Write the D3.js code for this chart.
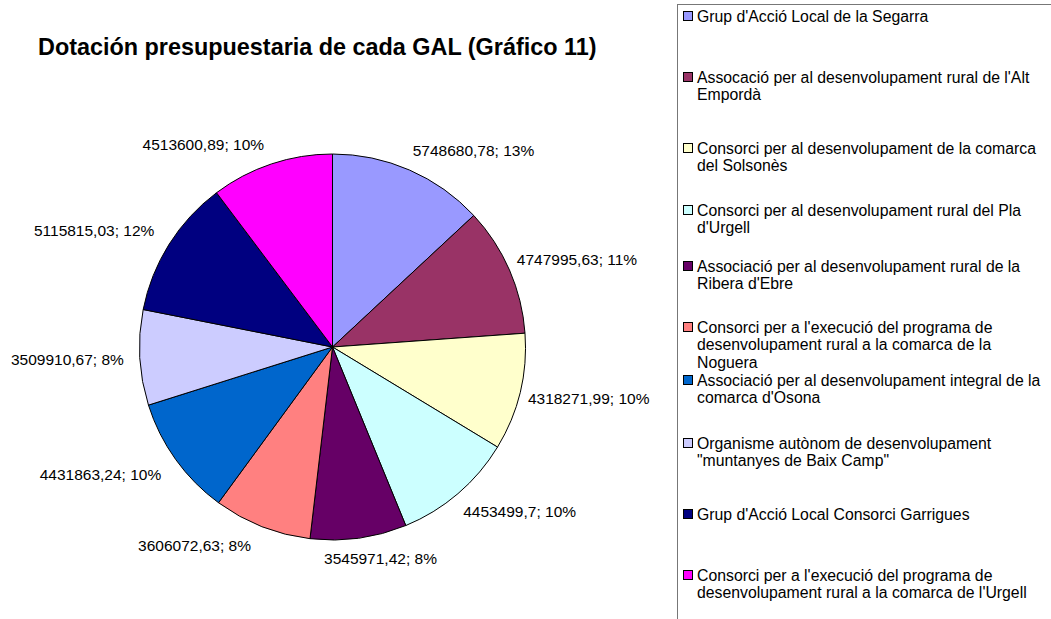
<!DOCTYPE html>
<html>
<head>
<meta charset="utf-8">
<script src="https://cdn.jsdelivr.net/npm/d3@7"></script>
<style>
  body { margin: 0; background: #fff; }
  svg { display: block; font-family: "Liberation Sans", Arial, sans-serif; }
</style>
</head>
<body>
<svg width="1051" height="619"></svg>
<script>
const categories = [
    "Grup d'Acció Local de la Segarra",
    "Assocació per al desenvolupament rural de l'Alt\nEmpordà",
    "Consorci per al desenvolupament de la comarca\ndel Solsonès",
    "Consorci per al desenvolupament rural del Pla\nd'Urgell",
    "Associació per al desenvolupament rural de la\nRibera d'Ebre",
    "Consorci per a l'execució del programa de\ndesenvolupament rural a la comarca de la\nNoguera",
    "Associació per al desenvolupament integral de la\ncomarca d'Osona",
    "Organisme autònom de desenvolupament\n\"muntanyes de Baix Camp\"",
    "Grup d'Acció Local Consorci Garrigues",
    "Consorci per a l'execució del programa de\ndesenvolupament rural a la comarca de l'Urgell"
];
const values = [5748680.78, 4747995.63, 4318271.99, 4453499.7, 3545971.42,
                3606072.63, 4431863.24, 3509910.67, 5115815.03, 4513600.89];
const colors = ['#9999ff', '#993366', '#ffffcc', '#ccffff', '#660066',
                '#ff8080', '#0066cc', '#ccccff', '#000080', '#ff00ff'];

// legend entry rows (first line centre), as laid out in the original
const legendRows = [16, 77, 148, 210, 266, 327, 380, 443, 514, 575];

const svg = d3.select('svg');
const cx = 332.5, cy = 347, radius = 193;
const total = d3.sum(values);

svg.append('text')
    .attr('x', 38).attr('y', 55)
    .attr('font-size', 23.4).attr('font-weight', 'bold')
    .text('Dotación presupuestaria de cada GAL (Gráfico 11)');

const pie = d3.pie().sort(null).value(d => d);
const arc = d3.arc().innerRadius(0).outerRadius(radius);
const arcs = pie(values);

const g = svg.append('g').attr('transform', `translate(${cx},${cy})`);
g.selectAll('path')
    .data(arcs)
    .enter()
    .append('path')
    .attr('d', arc)
    .attr('fill', (d, i) => colors[i])
    .attr('stroke', '#000')
    .attr('stroke-width', 1);

// data labels, outside end (label box has some padding round the text)
const clamp = v => Math.max(-1, Math.min(1, v));
const gap = 8, boxH = 24, padX = 8;
g.selectAll('text.lbl')
    .data(arcs)
    .enter()
    .append('text')
    .classed('lbl', true)
    .attr('font-size', 15.5)
    .attr('text-anchor', 'start')
    .attr('dy', '0.35em')
    .text(d => String(d.data).replace('.', ',') + '; ' + Math.round(d.data / total * 100) + '%')
    .each(function (d) {
        const a = (d.startAngle + d.endAngle) / 2;
        const boxW = this.getComputedTextLength() + padX;
        const ax = (radius + gap) * Math.sin(a);
        const ay = -(radius + gap) * Math.cos(a);
        const midX = ax + boxW / 2 * clamp(3 * Math.sin(a));
        d3.select(this)
            .attr('x', midX - boxW / 2)
            .attr('y', ay + boxH / 2 * clamp(-1.5 * Math.cos(a)));
    });

// legend
const legend = svg.append('g');
legend.append('rect')
    .attr('x', 677.5).attr('y', 4.5)
    .attr('width', 420).attr('height', 700)
    .attr('fill', '#fff')
    .attr('stroke', '#777');

const items = legend.selectAll('g.item')
    .data(categories)
    .enter()
    .append('g')
    .classed('item', true)
    .attr('transform', (d, i) => `translate(0,${legendRows[i]})`);

items.append('rect')
    .attr('x', 683.5).attr('y', -4.5)
    .attr('width', 9).attr('height', 9)
    .attr('fill', (d, i) => colors[i])
    .attr('stroke', '#000');

items.append('text')
    .attr('font-size', 15.8)
    .attr('y', 0)
    .selectAll('tspan')
    .data(d => d.split('\n'))
    .enter()
    .append('tspan')
    .attr('x', 697)
    .attr('dy', (d, j) => j === 0 ? '0.35em' : 17.5)
    .text(d => d);
</script>
</body>
</html>
